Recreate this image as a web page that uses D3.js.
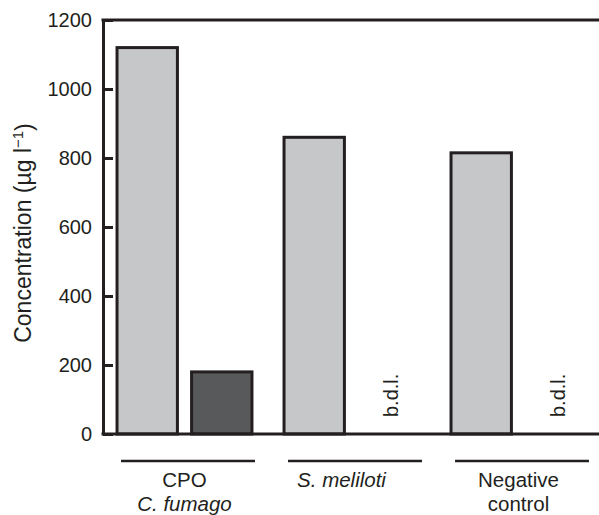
<!DOCTYPE html>
<html>
<head>
<meta charset="utf-8">
<script src="https://cdn.jsdelivr.net/npm/d3@7/dist/d3.min.js"></script>
<style>
  html, body { margin: 0; padding: 0; background: #fff; }
  svg { display: block; font-family: "Liberation Sans", Arial, Helvetica, sans-serif; }
</style>
</head>
<body>
<svg id="chart" width="599" height="515"></svg>
<script>
// ---- data ----
const categories = ["CPO / C. fumago", "S. meliloti", "Negative control"];
const labelLines = [
  [{ t: "CPO", i: false }, { t: "C. fumago", i: true }],
  [{ t: "S. meliloti", i: true }],
  [{ t: "Negative", i: false }, { t: "control", i: false }]
];
const seriesKeys = ["light", "dark"];
const lightValues = [1120, 860, 815];
const darkValues = [180, null, null]; // null = below detection limit
const yTicks = [0, 200, 400, 600, 800, 1000, 1200];
const bdlLabel = "b.d.l.";

// ---- layout ----
const svg = d3.select("#chart");
const mLeft = 103, mRight = 599, mTop = 20, mBottom = 434;
const ink = "#231f20";

const y = d3.scaleLinear().domain([0, 1200]).range([mBottom, mTop]);
const xg = d3.scaleBand().domain(categories).range([101, 602])
  .paddingInner(0.192).paddingOuter(0.096);
const xs = d3.scaleBand().domain(seriesKeys).range([0, xg.bandwidth()]).paddingInner(0.19);

const rows = categories.map((c, i) => ({
  cat: c,
  vals: [{ key: "light", v: lightValues[i] }, { key: "dark", v: darkValues[i] }]
}));

// bars
const g = svg.append("g");
const grp = g.selectAll("g.grp").data(rows).join("g")
  .attr("transform", d => `translate(${xg(d.cat)},0)`);

grp.selectAll("rect").data(d => d.vals.filter(v => v.v != null)).join("rect")
  .attr("x", d => xs(d.key))
  .attr("width", xs.bandwidth())
  .attr("y", d => y(d.v))
  .attr("height", d => y(0) - y(d.v))
  .attr("fill", d => d.key === "light" ? "#c6c7c9" : "#58595b")
  .attr("stroke", ink)
  .attr("stroke-width", 3);

grp.selectAll("text.bdl").data(d => d.vals.filter(v => v.v == null)).join("text")
  .attr("class", "bdl")
  .attr("transform", d => `translate(${xs(d.key) + xs.bandwidth() / 2 + 9},${y(0) - 17}) rotate(-90)`)
  .attr("font-size", 20)
  .attr("fill", ink)
  .text(bdlLabel);

// y axis
const yAxis = d3.axisLeft(y).tickValues(yTicks).tickFormat(d3.format("d"))
  .tickSizeInner(-10).tickSizeOuter(0).tickPadding(11);
const ya = svg.append("g").attr("transform", `translate(${mLeft},0)`).call(yAxis);
ya.select(".domain").attr("stroke", ink).attr("stroke-width", 3);
ya.selectAll(".tick line").attr("stroke", ink).attr("stroke-width", 3);
ya.selectAll(".tick text").attr("font-size", 20).attr("fill", ink)
  .attr("font-family", "Liberation Sans, Arial, sans-serif");

// top and bottom frame lines
svg.append("line").attr("x1", mLeft - 1.5).attr("x2", mRight).attr("y1", y(1200)).attr("y2", y(1200))
  .attr("stroke", ink).attr("stroke-width", 3);
svg.append("line").attr("x1", mLeft - 1.5).attr("x2", mRight).attr("y1", y(0)).attr("y2", y(0))
  .attr("stroke", ink).attr("stroke-width", 3);

// group underlines and labels
const lab = svg.append("g").selectAll("g").data(categories).join("g");
lab.append("line")
  .attr("x1", d => xg(d) + 4).attr("x2", d => xg(d) + xg.bandwidth() + 3)
  .attr("y1", 461).attr("y2", 461)
  .attr("stroke", ink).attr("stroke-width", 2.5);
lab.each(function (d, i) {
  const sel = d3.select(this);
  labelLines[i].forEach((ln, j) => {
    sel.append("text")
      .attr("x", xg(d) + xg.bandwidth() / 2 + (i === 1 ? -10 : 0))
      .attr("y", 487 + j * 24)
      .attr("text-anchor", "middle")
      .attr("font-size", 20.5)
      .attr("font-style", ln.i ? "italic" : "normal")
      .attr("fill", ink)
      .text(ln.t);
  });
});

// y title
const yt = svg.append("text")
  .attr("transform", "translate(31,233) rotate(-90)")
  .attr("text-anchor", "middle")
  .attr("font-size", 23)
  .attr("fill", ink);
yt.append("tspan").text("Concentration (\u00b5g l");
yt.append("tspan").attr("font-size", 15).attr("dy", "-0.55em").text("\u22121");
yt.append("tspan").attr("dy", "0.4em").text(")");
</script>
</body>
</html>
